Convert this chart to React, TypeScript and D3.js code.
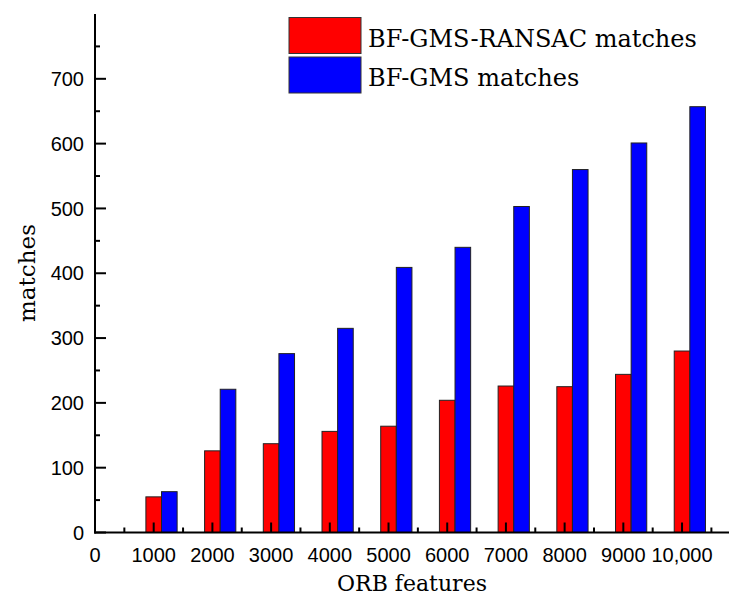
import React, { useEffect, useRef } from "react";
import * as d3 from "d3";

const features = [1000, 2000, 3000, 4000, 5000, 6000, 7000, 8000, 9000, 10000];
const ransacMatches = [55, 126, 137, 156, 164, 204, 226, 225, 244, 280];
const gmsMatches = [63, 221, 276, 315, 409, 440, 503, 560, 601, 657];
const xTickLabels = ["0", "1000", "2000", "3000", "4000", "5000", "6000", "7000", "8000", "9000", "10,000"];
const seriesNames = ["BF-GMS-RANSAC matches", "BF-GMS matches"];
const seriesColors = ["#ff0000", "#0000ff"];

const App = () => {
  const chartRef = useRef<SVGSVGElement>(null);

  useEffect(() => {
    const svg = d3.select(chartRef.current);
    svg.selectAll("*").remove();

    const width = 729;
    const height = 609;
    const x = d3.scaleLinear().domain([0, 10800]).range([95, 729]);
    const y = d3.scaleLinear().domain([0, 800]).range([532.5, 14]);
    const half = 133; // half bar width, data units

    svg.attr("width", width).attr("height", height);

    const rows = features.map((f, i) => ({ f, red: ransacMatches[i], blue: gmsMatches[i] }));

    // bars
    svg.selectAll(".red")
      .data(rows)
      .enter().append("rect")
      .attr("x", (d) => x(d.f - half))
      .attr("width", (d) => x(d.f + half) - x(d.f - half))
      .attr("y", (d) => y(d.red))
      .attr("height", (d) => y(0) - y(d.red))
      .attr("fill", seriesColors[0])
      .attr("stroke", "#222")
      .attr("stroke-width", 1);

    svg.selectAll(".blue")
      .data(rows)
      .enter().append("rect")
      .attr("x", (d) => x(d.f + half))
      .attr("width", (d) => x(d.f + 3 * half) - x(d.f + half))
      .attr("y", (d) => y(d.blue))
      .attr("height", (d) => y(0) - y(d.blue))
      .attr("fill", seriesColors[1])
      .attr("stroke", "#222")
      .attr("stroke-width", 1);

    const axis = svg.append("g").attr("stroke", "#000").attr("stroke-width", 2);

    // x ticks (inside)
    d3.range(0, 10501, 500).forEach((v) => {
      const major = v % 1000 === 0;
      axis.append("line")
        .attr("x1", x(v)).attr("x2", x(v))
        .attr("y1", y(0)).attr("y2", y(0) - (major ? 10 : 5));
    });
    // y ticks (inside)
    d3.range(0, 751, 50).forEach((v) => {
      const major = v % 100 === 0;
      axis.append("line")
        .attr("x1", x(0)).attr("x2", x(0) + (major ? 11 : 5))
        .attr("y1", y(v)).attr("y2", y(v));
    });

    axis.append("line")
      .attr("x1", x(0)).attr("x2", x(0))
      .attr("y1", y(800)).attr("y2", y(0) + 1);
    axis.append("line")
      .attr("x1", x(0) - 1).attr("x2", width)
      .attr("y1", y(0)).attr("y2", y(0));

    // tick labels
    svg.selectAll(".xlab")
      .data(xTickLabels)
      .enter().append("text")
      .attr("x", (d, i) => x(i * 1000))
      .attr("y", 562)
      .attr("text-anchor", "middle")
      .attr("font-family", "Liberation Sans, Arial, sans-serif")
      .attr("font-size", "20px")
      .text((d) => d);

    svg.selectAll(".ylab")
      .data(d3.range(0, 701, 100))
      .enter().append("text")
      .attr("x", 84)
      .attr("y", (d) => y(d))
      .attr("dy", "0.36em")
      .attr("text-anchor", "end")
      .attr("font-family", "Liberation Sans, Arial, sans-serif")
      .attr("font-size", "20px")
      .text((d) => d);

    // axis titles
    svg.append("text")
      .attr("x", 412)
      .attr("y", 591)
      .attr("text-anchor", "middle")
      .attr("font-family", "DejaVu Serif, serif")
      .attr("font-size", "22px")
      .text("ORB features");

    svg.append("text")
      .attr("transform", "translate(35,273) rotate(-90)")
      .attr("text-anchor", "middle")
      .attr("font-family", "DejaVu Serif, serif")
      .attr("font-size", "23px")
      .text("matches");

    // legend
    seriesNames.forEach((name, i) => {
      const top = 17.5 + i * 39.5;
      svg.append("rect")
        .attr("x", 289).attr("y", top)
        .attr("width", 72).attr("height", 36)
        .attr("fill", seriesColors[i])
        .attr("stroke", "#333")
        .attr("stroke-width", 1);
      svg.append("text")
        .attr("x", 368)
        .attr("y", top + 29)
        .attr("font-family", "DejaVu Serif, serif")
        .attr("font-size", "24px")
        .text(name);
    });
  }, []);

  return <svg ref={chartRef} style={{ position: "absolute", left: 0, top: 0, background: "#fff" }}></svg>;
};

export default App;
